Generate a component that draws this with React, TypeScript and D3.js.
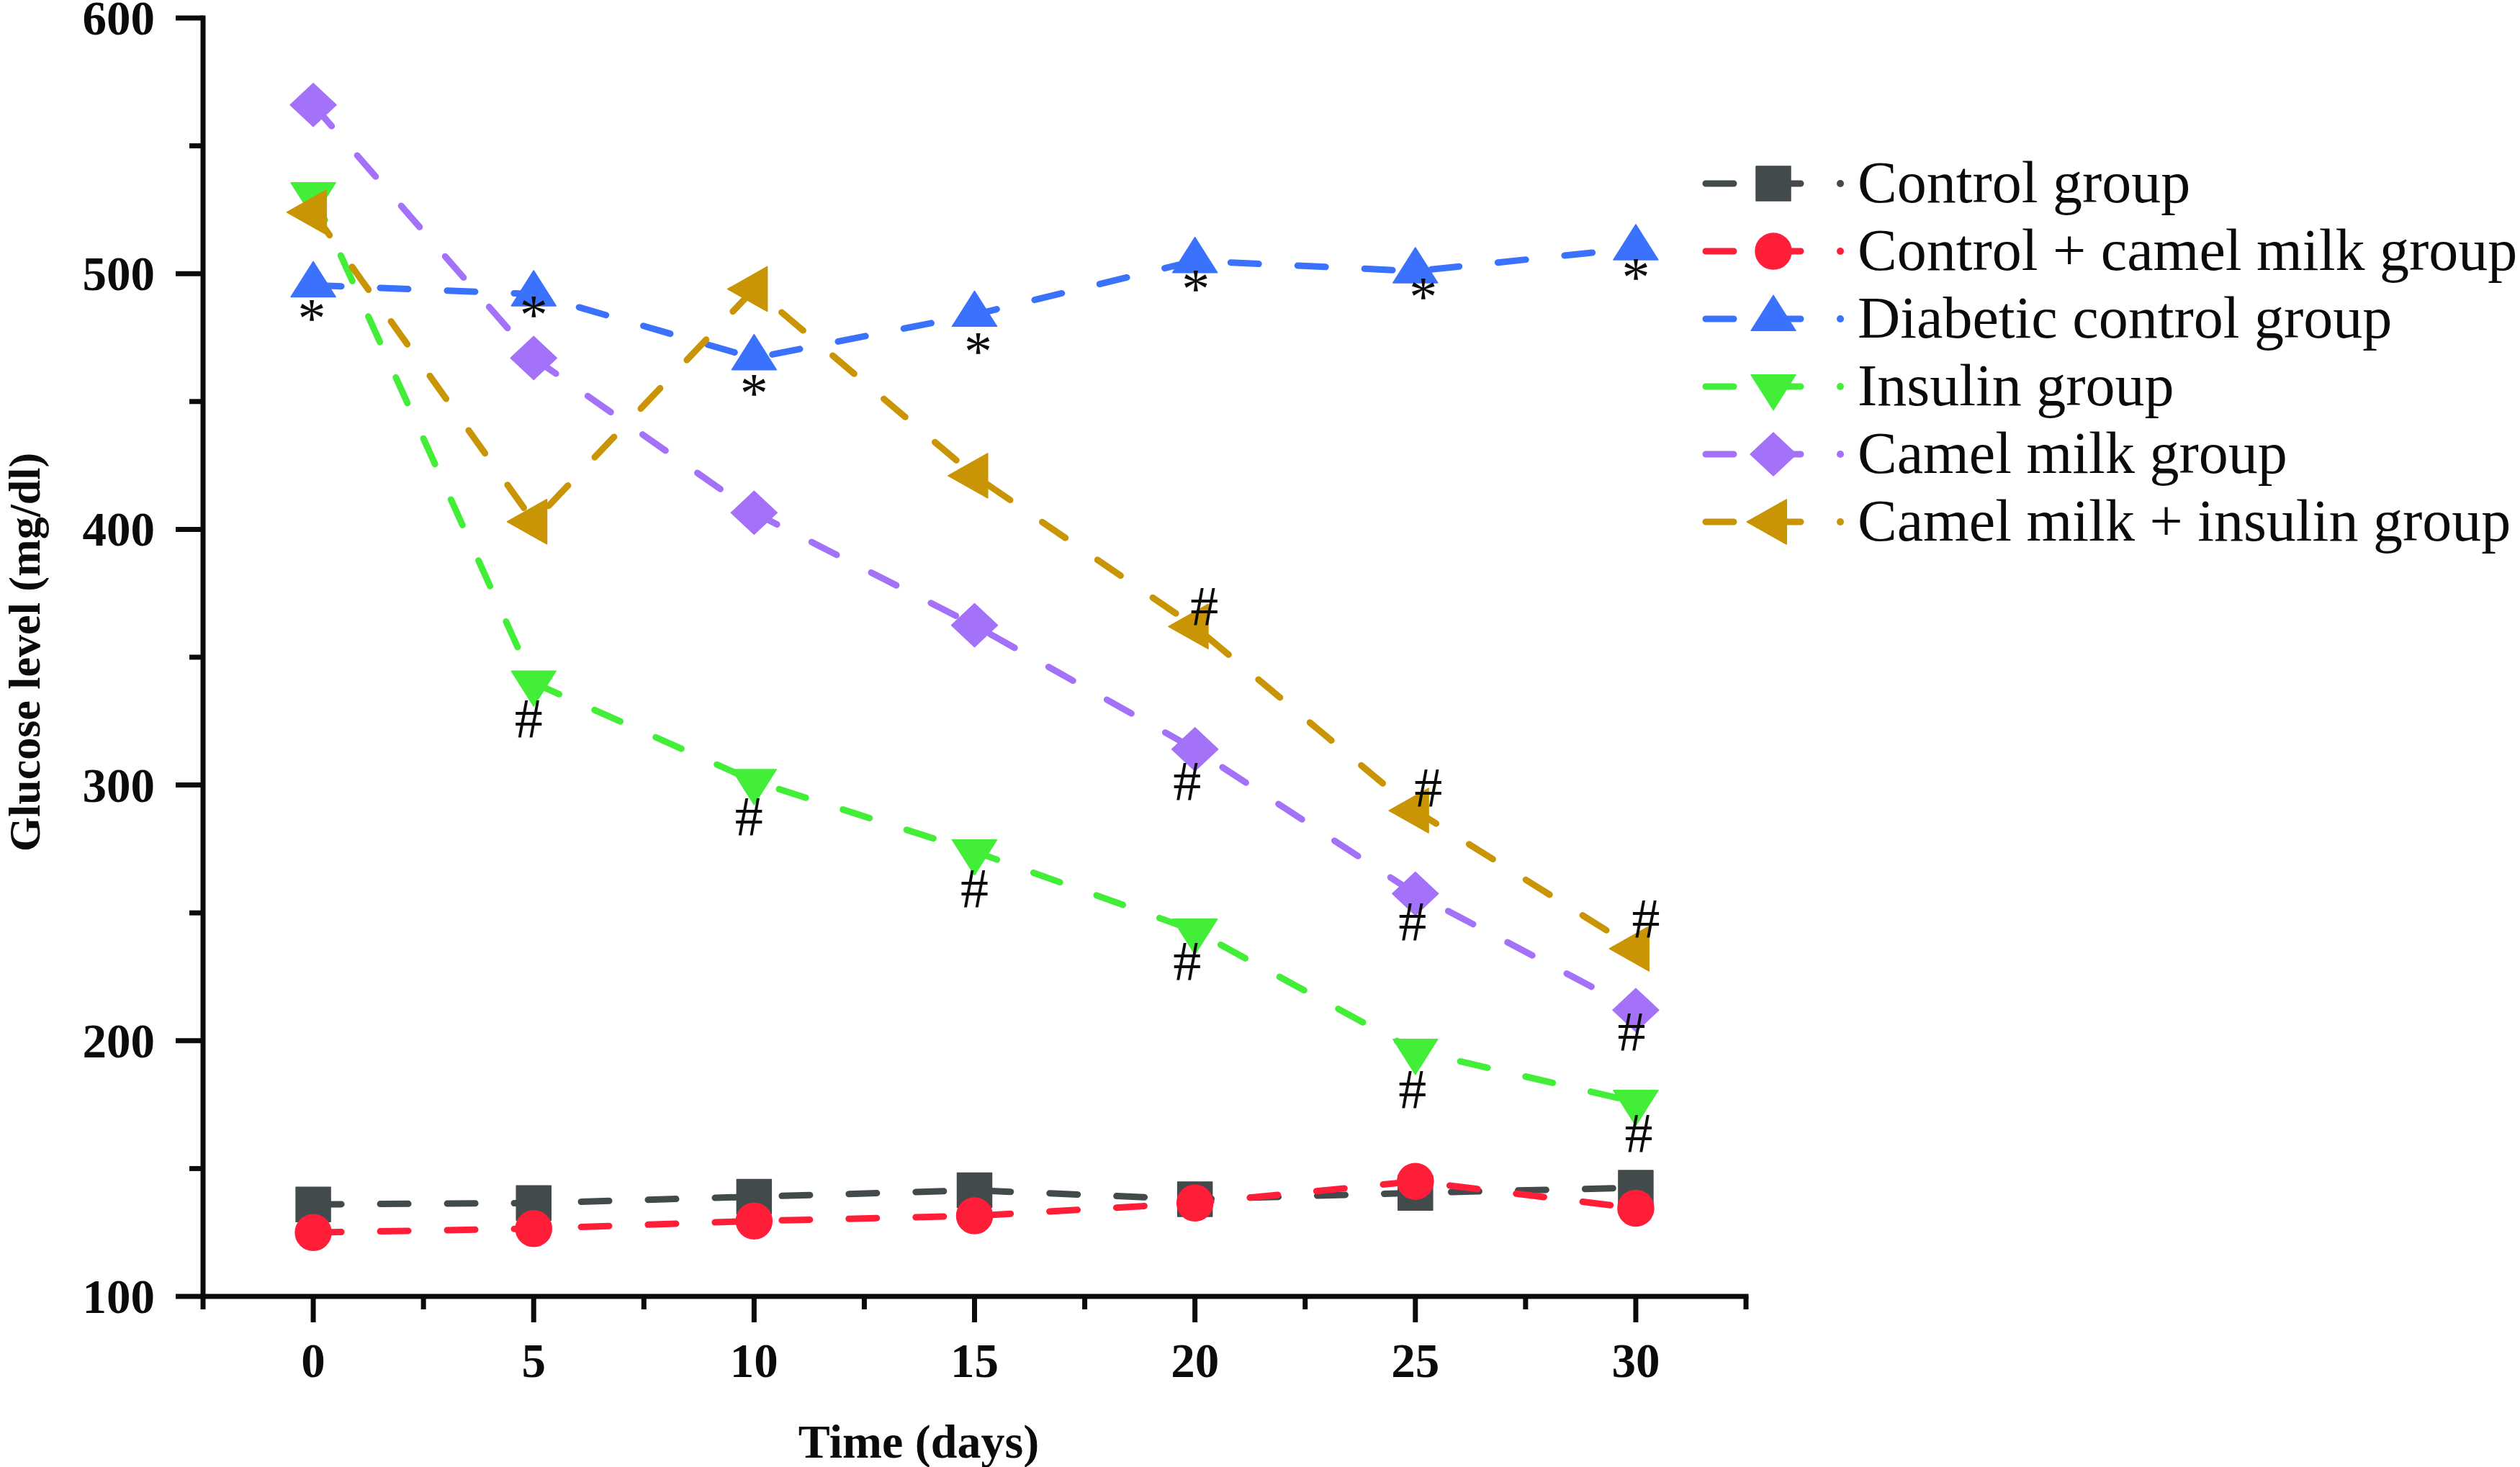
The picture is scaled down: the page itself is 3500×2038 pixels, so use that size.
import React from 'react';
import * as d3 from 'd3';

// ---------------- data ----------------
const days = [0, 5, 10, 15, 20, 25, 30];
const controlGroup = [136, 136.5, 139, 141.5, 138, 140.5, 142.5];
const controlCamelMilk = [125, 126.5, 129.5, 131.5, 136.5, 145, 134.5];
const diabeticControl = [495.5, 492, 467, 484, 505, 501, 510];
const insulinGroup = [531, 340, 301.5, 274, 243, 196, 176];
const camelMilkGroup = [566, 467, 406.5, 362.5, 314, 257.5, 212];
const camelMilkInsulin = [524, 403, 494, 421, 362, 290, 236];

const seriesNames = [
  'Control group',
  'Control + camel milk group',
  'Diabetic control group',
  'Insulin group',
  'Camel milk group',
  'Camel milk + insulin group',
];
const seriesValues = [controlGroup, controlCamelMilk, diabeticControl, insulinGroup, camelMilkGroup, camelMilkInsulin];

const xTickLabels = ['0', '5', '10', '15', '20', '25', '30'];
const yTickLabels = ['100', '200', '300', '400', '500', '600'];

// significance marks: day indices
const starMarks = [0, 1, 2, 3, 4, 5, 6]; // on diabetic control
const hashInsulin = [1, 2, 3, 4, 5, 6];
const hashCamel = [4, 5, 6];
const hashCamelInsulin = [4, 5, 6];

// ---------------- styles / layout ----------------
const colors = ['#434a4c', '#ff1e38', '#3a71fd', '#42ee37', '#a472f9', '#c99505'];
const shapes = ['square', 'circle', 'triangleUp', 'triangleDown', 'diamond', 'triangleLeft'];
const AX = '#0b0c0a';
const FONT = '"Liberation Serif", "Times New Roman", serif';

// pixel offsets of annotation glyph centres from their data point
const starOffsets = [[-2, 35], [0, 17], [0, 38], [5, 40], [1, 28], [11, 24], [0, 29]];
const hashInsulinOffsets = [[-7, 49], [-7, 49], [0, 51], [-11, 42], [-4, 53], [4, 43]];
const hashCamelOffsets = [[-11, 44], [-4, 38], [-6, 30]];
const hashCamelInsulinOffsets = [[13, -28], [18, -32], [14, -42]];

function symbolPath(shape: string): string {
  const p = d3.path();
  switch (shape) {
    case 'square':
      p.rect(-24, -24, 48, 48);
      break;
    case 'circle':
      p.arc(0, 0, 25, 0, Math.PI * 2);
      p.closePath();
      break;
    case 'triangleUp':
      p.moveTo(0, -32.7); p.lineTo(31, 16.3); p.lineTo(-31, 16.3); p.closePath();
      break;
    case 'triangleDown':
      p.moveTo(0, 32.7); p.lineTo(31, -16.3); p.lineTo(-31, -16.3); p.closePath();
      break;
    case 'diamond':
      p.moveTo(0, -30); p.lineTo(32, 0); p.lineTo(0, 30); p.lineTo(-32, 0); p.closePath();
      break;
    case 'triangleLeft':
      p.moveTo(-36.7, 0); p.lineTo(18.3, -31); p.lineTo(18.3, 31); p.closePath();
      break;
  }
  return p.toString();
}

export default function App() {
  const W = 3500, H = 2038;
  const x = d3.scaleLinear().domain([-2.5, 32.5]).range([282, 2425]);
  const y = d3.scaleLinear().domain([100, 600]).range([1801, 25]);

  const line = d3.line<number>()
    .x((_, i) => x(days[i]))
    .y((d) => y(d));

  const xMajor = days;
  const xMinor = d3.range(-2.5, 33, 5);
  const yMajor = d3.range(100, 601, 100);
  const yMinor = d3.range(150, 600, 100);

  const dash = '39 54';
  const lw = 9;

  const annot = (series: number[], idx: number[], offs: number[][], ch: string, key: string) =>
    idx.map((di, k) => {
      const cx = x(days[di]) + offs[k][0];
      const cy = y(series[di]) + offs[k][1];
      const base = ch === '*' ? cy + 37 : cy + 26;
      return (
        <text key={key + k} x={cx} y={base} textAnchor="middle" fontFamily={FONT} fontSize={78} fill={AX}>
          {ch}
        </text>
      );
    });

  const legX0 = 2369, legX1 = 2503, legMarker = 2463, legDot = 2556, legText = 2580;
  const legY0 = 255, legStep = 94;

  return (
    <svg width={W} height={H} style={{ position: 'absolute', left: 0, top: 0, display: 'block', background: '#fff' }}>
      <rect x={0} y={0} width={W} height={H} fill="#fff" />
      {/* axes */}
      <line x1={x(-2.5) - 3.5} x2={x(32.5) + 3.5} y1={y(100)} y2={y(100)} stroke={AX} strokeWidth={7} />
      <line x1={x(-2.5)} x2={x(-2.5)} y1={y(100) + 3.5} y2={y(600) - 3.5} stroke={AX} strokeWidth={7} />
      {xMajor.map((d) => (
        <line key={'xM' + d} x1={x(d)} x2={x(d)} y1={y(100)} y2={y(100) + 36} stroke={AX} strokeWidth={7} />
      ))}
      {xMinor.map((d) => (
        <line key={'xm' + d} x1={x(d)} x2={x(d)} y1={y(100)} y2={y(100) + 18} stroke={AX} strokeWidth={7} />
      ))}
      {yMajor.map((d) => (
        <line key={'yM' + d} x1={x(-2.5)} x2={x(-2.5) - 38} y1={y(d)} y2={y(d)} stroke={AX} strokeWidth={7} />
      ))}
      {yMinor.map((d) => (
        <line key={'ym' + d} x1={x(-2.5)} x2={x(-2.5) - 19} y1={y(d)} y2={y(d)} stroke={AX} strokeWidth={7} />
      ))}
      {xMajor.map((d, i) => (
        <text key={'xl' + d} x={x(d)} y={1913} textAnchor="middle" fontFamily={FONT} fontWeight="bold" fontSize={67} fill={AX}>
          {xTickLabels[i]}
        </text>
      ))}
      {yMajor.map((d, i) => (
        <text key={'yl' + d} x={215} y={y(d) + 23} textAnchor="end" fontFamily={FONT} fontWeight="bold" fontSize={67} fill={AX}>
          {yTickLabels[i]}
        </text>
      ))}
      <text x={1276} y={2025} textAnchor="middle" fontFamily={FONT} fontWeight="bold" fontSize={66} fill={AX}>
        Time (days)
      </text>
      <text transform="translate(55,906) rotate(-90)" textAnchor="middle" fontFamily={FONT} fontWeight="bold" fontSize={62} fill={AX}>
        Glucose level (mg/dl)
      </text>

      {/* series */}
      {seriesValues.map((vals, si) => (
        <g key={'s' + si}>
          <path d={line(vals) || ''} fill="none" stroke={colors[si]} strokeWidth={lw} strokeDasharray={dash} strokeLinecap="round" strokeLinejoin="round" />
          {vals.map((v, i) => (
            <path key={i} d={symbolPath(shapes[si])} transform={`translate(${x(days[i])},${y(v)})`} fill={colors[si]} stroke={colors[si]} strokeWidth={1.5} strokeLinejoin="round" />
          ))}
        </g>
      ))}

      {/* annotations */}
      {annot(diabeticControl, starMarks, starOffsets, '*', 'st')}
      {annot(insulinGroup, hashInsulin, hashInsulinOffsets, '#', 'hi')}
      {annot(camelMilkGroup, hashCamel, hashCamelOffsets, '#', 'hc')}
      {annot(camelMilkInsulin, hashCamelInsulin, hashCamelInsulinOffsets, '#', 'hci')}

      {/* legend */}
      {seriesNames.map((name, si) => {
        const cy = legY0 + si * legStep;
        return (
          <g key={'lg' + si}>
            <line x1={legX0} x2={legX1} y1={cy} y2={cy} stroke={colors[si]} strokeWidth={lw} strokeDasharray={dash} strokeLinecap="round" />
            <path d={symbolPath(shapes[si])} transform={`translate(${legMarker},${cy})`} fill={colors[si]} stroke={colors[si]} strokeWidth={1.5} strokeLinejoin="round" />
            <circle cx={legDot} cy={cy} r={5} fill={colors[si]} />
            <text x={legText} y={cy + 26} fontFamily={FONT} fontSize={82} fill={AX}>
              {name}
            </text>
          </g>
        );
      })}
    </svg>
  );
}
